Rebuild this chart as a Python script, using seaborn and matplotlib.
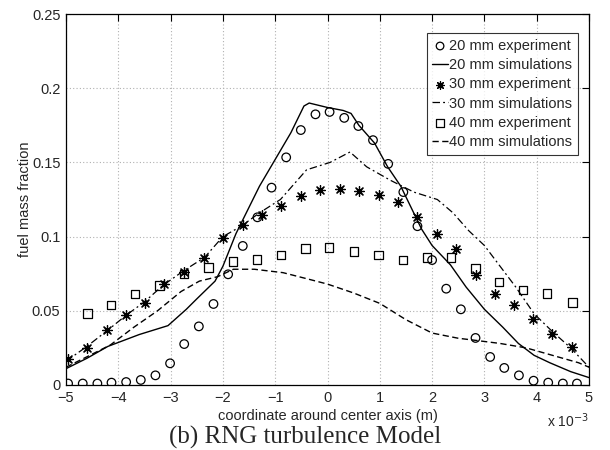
import numpy as np
import pandas as pd
import matplotlib
matplotlib.use("Agg")
import matplotlib.pyplot as plt
import seaborn as sns

# x values in units of 1e-3 m
exp20_x = [-4.96, -4.68, -4.40, -4.13, -3.85, -3.57, -3.29, -3.01, -2.74, -2.46, -2.18, -1.90,
           -1.62, -1.34, -1.07, -0.79, -0.51, -0.23, 0.04, 0.32, 0.59, 0.87, 1.16, 1.45, 1.72,
           2.00, 2.27, 2.55, 2.83, 3.11, 3.38, 3.66, 3.94, 4.22, 4.50, 4.77]
exp20_y = [0.001, 0.001, 0.001, 0.0016, 0.002, 0.0034, 0.0065, 0.0146, 0.0276, 0.0395, 0.0546, 0.0746,
           0.0937, 0.113, 0.133, 0.1534, 0.1718, 0.1824, 0.184, 0.180, 0.1745, 0.165, 0.149, 0.130, 0.107,
           0.0842, 0.0649, 0.051, 0.0317, 0.0189, 0.0115, 0.0065, 0.0029, 0.0016, 0.001, 0.001]

sim20_x = [-5.0, -4.6, -4.2, -3.6, -3.05, -2.7, -2.5, -2.15, -2.0, -1.75, -1.3, -1.0, -0.7, -0.45,
           -0.35, 0.0, 0.3, 0.45, 0.6, 0.9, 1.15, 1.4, 1.8, 2.0, 2.35, 2.65, 3.0, 3.35, 3.65, 3.95,
           4.25, 4.65, 5.0]
sim20_y = [0.011, 0.018, 0.026, 0.034, 0.040, 0.051, 0.058, 0.070, 0.080, 0.102, 0.134, 0.152, 0.170,
           0.188, 0.190, 0.187, 0.185, 0.183, 0.175, 0.163, 0.147, 0.134, 0.105, 0.094, 0.081, 0.066,
           0.051, 0.039, 0.028, 0.020, 0.015, 0.009, 0.005]

exp30_x = [-4.96, -4.59, -4.22, -3.85, -3.48, -3.13, -2.74, -2.37, -2.00, -1.62, -1.26, -0.88, -0.51,
           -0.14, 0.24, 0.61, 0.98, 1.34, 1.72, 2.09, 2.46, 2.83, 3.20, 3.57, 3.93, 4.30, 4.68]
exp30_y = [0.0173, 0.0251, 0.0371, 0.047, 0.0555, 0.0678, 0.0764, 0.0858, 0.0993, 0.1076, 0.1146, 0.1208,
           0.1276, 0.1314, 0.132, 0.131, 0.1278, 0.1235, 0.113, 0.102, 0.0914, 0.0741, 0.0613, 0.0541,
           0.0443, 0.0341, 0.0254]

sim30_x = [-5.0, -4.6, -4.2, -3.85, -3.5, -3.15, -2.75, -2.35, -2.0, -1.65, -1.3, -0.9, -0.4, 0.05,
           0.43, 0.75, 1.2, 1.65, 2.1, 2.4, 2.7, 3.0, 3.3, 3.6, 3.95, 4.3, 4.65, 5.0]
sim30_y = [0.016, 0.026, 0.037, 0.047, 0.056, 0.067, 0.077, 0.086, 0.100, 0.107, 0.116, 0.125, 0.145,
           0.150, 0.157, 0.147, 0.138, 0.130, 0.125, 0.116, 0.104, 0.094, 0.080, 0.066, 0.048, 0.036,
           0.025, 0.012]

exp40_x = [-4.59, -4.14, -3.68, -3.21, -2.74, -2.27, -1.81, -1.35, -0.89, -0.42, 0.03, 0.51, 0.98,
           1.44, 1.90, 2.36, 2.83, 3.28, 3.74, 4.20, 4.68]
exp40_y = [0.0483, 0.0539, 0.0613, 0.0669, 0.0748, 0.079, 0.0831, 0.0847, 0.0876, 0.0921, 0.0928, 0.0898,
           0.0876, 0.0842, 0.086, 0.0858, 0.0786, 0.0694, 0.064, 0.0618, 0.0557]

sim40_x = [-5.0, -4.6, -4.15, -3.7, -3.25, -2.8, -2.45, -2.1, -1.8, -1.4, -0.85, -0.35, 0.0, 0.5, 1.0,
           1.5, 2.0, 2.5, 2.85, 3.3, 3.8, 4.3, 4.8, 5.0]
sim40_y = [0.012, 0.019, 0.027, 0.039, 0.050, 0.063, 0.070, 0.073, 0.078, 0.078, 0.0757, 0.0712, 0.068,
           0.062, 0.055, 0.044, 0.035, 0.0315, 0.030, 0.028, 0.025, 0.020, 0.015, 0.012]

labels = ["20 mm experiment", "20 mm simulations", "30 mm experiment",
          "30 mm simulations", "40 mm experiment", "40 mm simulations"]
xticks = [-5, -4, -3, -2, -1, 0, 1, 2, 3, 4, 5]
yticks = [0, 0.05, 0.1, 0.15, 0.2, 0.25]
yticklabels = ["0", "0.05", "0.1", "0.15", "0.2", "0.25"]

sns.set_style("white")
plt.rcParams['font.family'] = ['Liberation Sans', 'DejaVu Sans']
plt.rcParams['font.size'] = 10

fig = plt.figure(figsize=(6.1, 4.5), dpi=100)
ax = fig.add_axes([66/610, 1-385/450, (589-66)/610, (385-14)/450])

def df(x, y):
    return pd.DataFrame({"x": x, "y": y})

sns.scatterplot(data=df(exp20_x, exp20_y), x="x", y="y", ax=ax, marker="o", s=38,
                facecolors="none", edgecolors="black", linewidths=0.9, label=labels[0], zorder=3)
sns.lineplot(data=df(sim20_x, sim20_y), x="x", y="y", ax=ax, color="black", lw=1.0,
             estimator=None, sort=False, label=labels[1])
sns.scatterplot(data=df(exp30_x, exp30_y), x="x", y="y", ax=ax, marker=(8, 2, 0), s=50,
                color="black", linewidths=0.9, label=labels[2], zorder=3)
sns.lineplot(data=df(sim30_x, sim30_y), x="x", y="y", ax=ax, color="black", lw=0.9,
             estimator=None, sort=False, label=labels[3])
sns.scatterplot(data=df(exp40_x, exp40_y), x="x", y="y", ax=ax, marker="s", s=38,
                facecolors="none", edgecolors="black", linewidths=0.9, label=labels[4], zorder=3)
sns.lineplot(data=df(sim40_x, sim40_y), x="x", y="y", ax=ax, color="black", lw=1.0,
             estimator=None, sort=False, label=labels[5])

lines = ax.get_lines()
lines[1].set_linestyle((0, (6, 2.5, 1.5, 2.5)))
lines[2].set_linestyle((0, (4.5, 2.5)))

ax.set_xlim(-5, 5)
ax.set_ylim(0, 0.25)
ax.set_xticks(xticks)
ax.set_xticklabels([str(t).replace("-", "\u2212") for t in xticks])
ax.set_yticks(yticks)
ax.set_yticklabels(yticklabels)
ax.grid(True, color="#b0b0b0", linestyle=(0, (1, 2)), linewidth=0.8)
ax.tick_params(direction="in", top=True, right=True, length=5, width=0.8,
               labelsize=10.5, color="black")
ax.tick_params(axis="x", pad=4.5)
ax.tick_params(axis="y", pad=4)
for sp in ax.spines.values():
    sp.set_color("black")
    sp.set_linewidth(0.9)

ax.set_xlabel("coordinate around center axis (m)", fontsize=10.5, labelpad=3)
ax.set_ylabel("fuel mass fraction", fontsize=10.5, labelpad=0)
ax.text(1.0, -0.095, r"x 10$^{-3}$", transform=ax.transAxes, ha="right", va="center", fontsize=10)

leg = ax.legend(loc="upper right", bbox_to_anchor=((578-66)/523, (385-33)/371), frameon=True,
                fancybox=False, edgecolor="black", fontsize=10.5, handlelength=1.05,
                handletextpad=0.1, labelspacing=0.36, borderpad=0.4, borderaxespad=0)
leg.get_frame().set_linewidth(0.8)
leg.set_zorder(5)
for h in leg.legend_handles:
    try:
        h.set_sizes([30])
    except Exception:
        pass

fig.text(0.5, 1 - 437/450, "(b) RNG turbulence Model", ha="center", va="center",
         fontsize=18, family=["Liberation Serif", "DejaVu Serif"])

fig.savefig("out.png", dpi=100)
